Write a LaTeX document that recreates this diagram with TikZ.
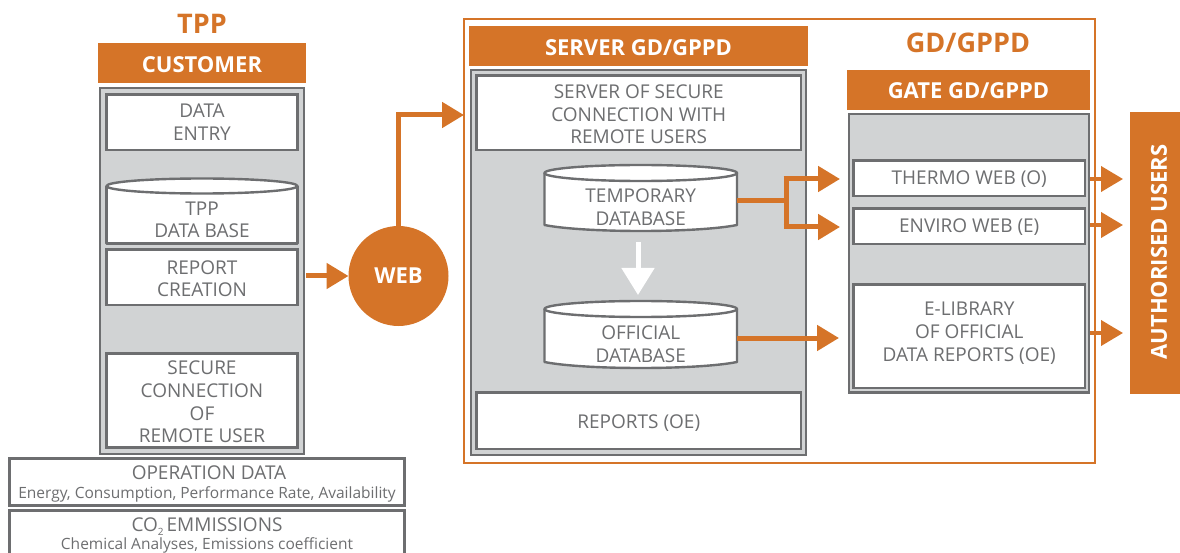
\documentclass[tikz,border=0pt]{standalone}
\usepackage{fontspec}
\setmainfont{Open Sans}
\usetikzlibrary{arrows.meta,positioning}
\definecolor{org}{HTML}{D57428}
\definecolor{gry}{HTML}{6D6E70}
\definecolor{lgry}{HTML}{D1D3D4}
\newcommand{\fs}[2]{\fontsize{#1}{#2}\selectfont}
\tikzset{
  x=1pt,y=-1pt,
  every node/.style={inner sep=0pt,outer sep=0pt,align=center},
  hdr/.style={fill=org,text=white,font=\fs{22}{26}\bfseries},
  panel/.style={fill=lgry,draw=gry,line width=2.6pt},
  wbox/.style={fill=white,draw=gry,line width=2.6pt,text=gry,font=\fs{19}{22.6}},
  cyl/.style={fill=white,draw=gry,line width=2.4pt,line join=round},
  cyltext/.style={text=gry,font=\fs{19}{22.6}},
  title/.style={text=org,font=\fs{27}{30}\bfseries},
  link/.style={draw=org,line width=5pt,-{Triangle[length=22pt,width=25pt]}},
  thin link/.style={draw=org,line width=4pt,-{Triangle[length=22pt,width=25pt]}},
  plain/.style={draw=org,line width=5pt},
}
% rectangle node from edges: [text shift] name, style, x1, y1, x2, y2, text
\newcommand{\bx}[8][0]{%
  \path ({(#4+#6)/2},{(#5+#7)/2}) node[#3,minimum width={#6-#4},minimum height={#7-#5}] (#2) {};
  \path (#2.center) node[#3,draw=none,fill=none,yshift=-#1pt] (#2t) {#8};}
\newcommand{\cylinder}[6]{% name x1 ytop x2 ybot text
  \draw[cyl] (#2,#3+8) -- (#2,#5-7) .. controls (#2+40,#5+1) and (#4-40,#5+1) .. (#4,#5-7) -- (#4,#3+8);
  \draw[cyl] ({(#2+#4)/2},#3+8) ellipse [x radius={(#4-#2)/2},y radius=8];
  \path ({(#2+#4)/2},{(#3+#5)/2+9}) node[cyltext] (#1) {#6};}
\begin{document}
\begin{tikzpicture}
\useasboundingbox (0,0) rectangle (1180,553);
% left column
\node[title] (tpp) at (202,24) {TPP};
\bx[1.5]{customer}{hdr}{98}{43}{306}{83}{CUSTOMER}
\bx{leftpanel}{panel}{100}{88}{304}{454}{}
\bx{entry}{wbox}{106.5}{94.5}{297.5}{150}{DATA\\ENTRY}
\draw[cyl] (106.5,186) -- (106.5,243.5) -- (297.5,243.5) -- (297.5,186);
\draw[cyl] (202,186) ellipse [x radius=95.5,y radius=7.5];
\node[cyltext] (tppdb) at (202,220) {TPP\\DATA BASE};
\bx[1.5]{report}{wbox}{106.5}{249.5}{297.5}{305}{REPORT\\CREATION}
\bx[1.5]{secure}{wbox}{106.5}{353.5}{297.5}{447.5}{SECURE\\CONNECTION\\OF\\REMOTE USER}
\bx{opdata}{wbox}{9.5}{458.5}{404.5}{505.5}{}
\node[text=gry,font=\fs{19}{22}] (optitle) at (209,473) {OPERATION DATA};
\node[text=gry,font=\fs{15.5}{20}] (optext) at (207,494) {Energy, Consumption, Performance Rate, Availability};
\draw[draw=gry,line width=2.6pt] (9.5,556) -- (9.5,510.5) -- (404.5,510.5) -- (404.5,556);
\node[text=gry,font=\fs{19}{22}] (cotitle) at (207,527) {CO\raisebox{-4pt}{\fs{10}{10}2}\hspace{3pt}EMMISSIONS};
\node[text=gry,font=\fs{15.5}{20}] (cotext) at (207,545) {Chemical Analyses, Emissions coefficient};
% web
\node[circle,fill=org,text=white,minimum size=100pt,font=\fs{22}{26}\bfseries] (web) at (398.5,276) {\raisebox{-1.5pt}{WEB}};
% outer frame
\bx{frame}{draw=org,line width=2pt}{464}{19}{1095}{463}{}
\coordinate (frameW) at (464,115);
\bx[1.5]{server}{hdr}{469}{26}{808}{66}{SERVER GD/GPPD}
\bx{serverpanel}{panel}{471}{70}{806}{455}{}
\bx[1.5]{secsrv}{wbox}{476.5}{75.5}{801}{150}{SERVER OF SECURE\\CONNECTION WITH\\REMOTE USERS}
\cylinder{tempdb}{544.5}{165}{737}{232}{TEMPORARY\\DATABASE}
\cylinder{offdb}{544.5}{301}{737}{369}{OFFICIAL\\DATABASE}
\bx[2.5]{reports}{wbox}{476.5}{392.5}{801}{449}{REPORTS (OE)}
\coordinate (wa) at (638,242);
\coordinate (wb) at (638,295);
\draw[draw=white,line width=5pt,-{Triangle[length=27pt,width=32pt]}] (wa) -- (wb);
% gate
\node[title] (gd) at (968,43) {GD/GPPD};
\bx[1]{gate}{hdr}{847}{70}{1090}{110}{GATE GD/GPPD}
\bx{gatepanel}{panel}{849}{114}{1089}{392.5}{}
\bx[0.5]{thermo}{wbox}{853.5}{160.5}{1085}{196}{THERMO WEB (O)}
\bx[0.5]{enviro}{wbox}{853.5}{208.5}{1085}{244}{ENVIRO WEB (E)}
\bx[-3]{elib}{wbox}{853.5}{284.5}{1085}{388}{E-LIBRARY\\OF OFFICIAL\\DATA REPORTS (OE)}
\bx{auth}{fill=org}{1130}{112}{1180}{394}{}
\node[rotate=90,text=white,font=\fs{22}{26}\bfseries] (authtext) at (1159,252) {AUTHORISED USERS};
% connectors
\coordinate (t1) at (840,179);
\coordinate (t2) at (840,227);
\coordinate (tj) at (786,201);
\coordinate (ts) at (737,201);
\draw[plain] (ts) -- (tj);
\draw[link] (783.5,179) -- (t1);
\draw[link] (783.5,227) -- (t2);
\draw[plain] (tj |- t1) -- (tj |- t2);
\coordinate (t3) at (839,338);
\coordinate (s3) at (737,338);
\draw[link] (s3) -- (t3);
\coordinate (rs) at (306,276);
\draw[link] (rs) -- (web.west);
\draw[link] (web.north) |- (frameW);
\coordinate (a1) at (1090,179);
\coordinate (b1) at (1123,179);
\coordinate (a2) at (1090,225);
\coordinate (b2) at (1123,225);
\coordinate (a3) at (1090,333);
\coordinate (b3) at (1123,333);
\draw[thin link] (a1) -- (b1);
\draw[thin link] (a2) -- (b2);
\draw[thin link] (a3) -- (b3);
\end{tikzpicture}
\end{document}
